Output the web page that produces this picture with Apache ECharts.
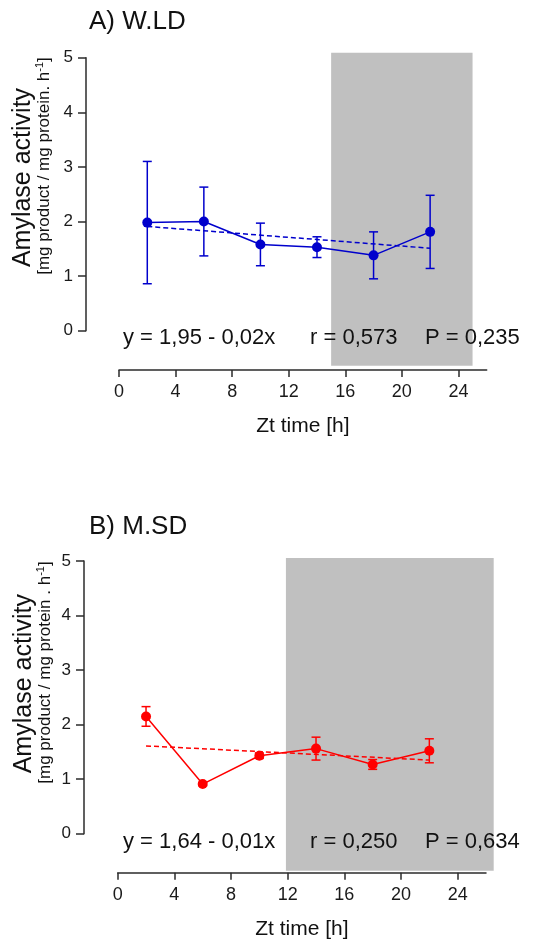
<!DOCTYPE html>
<html>
<head>
<meta charset="utf-8">
<script src="https://cdn.jsdelivr.net/npm/echarts@6/dist/echarts.min.js"></script>
<style>html,body{margin:0;padding:0;background:#fff;}#c{width:545px;height:941px;}</style>
</head>
<body>
<div id="c"></div>
<script>
// ---- data ----
const zt = [2, 6, 10, 14, 18, 22];
const wldMean = [1.98, 2.00, 1.58, 1.53, 1.38, 1.81];
const wldErr = [1.12, 0.63, 0.39, 0.19, 0.43, 0.67];
const msdMean = [2.15, 0.91, 1.43, 1.56, 1.27, 1.52];
const msdErr = [0.18, 0.03, 0.05, 0.21, 0.09, 0.22];
const fitX = [2, 22];
const wldFitY = [1.91, 1.51];
const msdFitY = [1.61, 1.35];
const wldDark = [15, 25];
const msdDark = [11.9, 26.6];
const panelTitles = ['A) W.LD', 'B) M.SD'];
const statTexts = [
  ['y = 1,95 - 0,02x', 'r = 0,573', 'P = 0,235'],
  ['y = 1,64 - 0,01x', 'r = 0,250', 'P = 0,634']
];
const yLabelLine1 = 'Amylase activity';
const yLabelLine2 = ['[mg product / mg protein. h', '[mg product / mg protein . h'];
const xName = 'Zt time [h]';

const FONT = '"Liberation Sans", Arial, sans-serif';
const AX = '#2b2b2b';

function pts(xs, ys) { return xs.map((x, i) => [x, ys[i]]); }
function errData(xs, m, e) { return xs.map((x, i) => [x, m[i] - e[i], m[i] + e[i]]); }

function errRender(color) {
  return function (params, api) {
    const x = api.value(0), lo = api.value(1), hi = api.value(2);
    const a = api.coord([x, hi]), b = api.coord([x, lo]);
    const w = 4.5;
    const st = { stroke: color, lineWidth: 1.5 };
    return { type: 'group', children: [
      { type: 'line', shape: { x1: a[0], y1: a[1], x2: b[0], y2: b[1] }, style: st },
      { type: 'line', shape: { x1: a[0] - w, y1: a[1], x2: a[0] + w, y2: a[1] }, style: st },
      { type: 'line', shape: { x1: b[0] - w, y1: b[1], x2: b[0] + w, y2: b[1] }, style: st }
    ]};
  };
}

// panel geometry
const P = [
  { left: 119, right: 486.7, top: 57.7, bottom: 330.7, xOff: 39.3, yOff: 33, bgTop: 52.7, bgBottom: 365.7, bgRight: 486.7, bgMax: 26,
    titleY: 22, statY: 338.3, yl1: [23, 177.5], yl2: [44.5, 166] },
  { left: 117.7, right: 486, top: 561, bottom: 833.7, xOff: 39, yOff: 33.7, bgTop: 558, bgBottom: 870.7, bgRight: 493.7, bgMax: 26.6,
    titleY: 526.7, statY: 841.7, yl1: [24, 683.7], yl2: [45, 672.5] }
];

const grid = [], xAxis = [], yAxis = [], series = [], graphic = [];
const colors = ['#0000CC', '#FF0000'];
const means = [wldMean, msdMean], errs = [wldErr, msdErr], fits = [wldFitY, msdFitY], darks = [wldDark, msdDark];

P.forEach((p, k) => {
  // background grid (dark phase)
  grid.push({ left: p.left, top: p.bgTop, width: p.bgRight - p.left, height: p.bgBottom - p.bgTop });
  xAxis.push({ gridIndex: 2 * k, type: 'value', min: 0, max: p.bgMax, show: false });
  yAxis.push({ gridIndex: 2 * k, type: 'value', min: 0, max: 1, show: false });
  series.push({ type: 'line', xAxisIndex: 2 * k, yAxisIndex: 2 * k, data: [], z: 0, silent: true,
    markArea: { silent: true, itemStyle: { color: '#C0C0C0', opacity: 1 },
      data: [[{ xAxis: darks[k][0] }, { xAxis: darks[k][1] }]] } });

  // main grid
  grid.push({ left: p.left, top: p.top, width: p.right - p.left, height: p.bottom - p.top });
  xAxis.push({ gridIndex: 2 * k + 1, type: 'value', min: 0, max: 26, interval: 4, offset: p.xOff,
    axisLine: { show: true, onZero: false, lineStyle: { color: AX, width: 1.5 } },
    axisTick: { show: true, length: 7, lineStyle: { color: AX, width: 1.5 } },
    splitLine: { show: false },
    axisLabel: { color: '#1a1a1a', fontSize: 18, fontFamily: FONT, margin: 13, showMaxLabel: false },
    name: xName, nameLocation: 'middle', nameGap: 46,
    nameTextStyle: { color: '#111', fontSize: 21, fontFamily: FONT } });
  yAxis.push({ gridIndex: 2 * k + 1, type: 'value', min: 0, max: 5, interval: 1, offset: p.yOff,
    axisLine: { show: true, onZero: false, lineStyle: { color: AX, width: 1.5 } },
    axisTick: { show: true, length: 8, lineStyle: { color: AX, width: 1.5 } },
    splitLine: { show: false },
    axisLabel: { color: '#1a1a1a', fontSize: 17, fontFamily: FONT, margin: 13 } });

  const c = colors[k];
  series.push({ type: 'line', xAxisIndex: 2 * k + 1, yAxisIndex: 2 * k + 1, data: pts(fitX, fits[k]),
    symbol: 'none', lineStyle: { color: c, width: 1.5, type: [5, 3] }, z: 3, silent: true });
  series.push({ type: 'custom', xAxisIndex: 2 * k + 1, yAxisIndex: 2 * k + 1, data: errData(zt, means[k], errs[k]),
    renderItem: errRender(c), z: 4, silent: true });
  series.push({ type: 'line', xAxisIndex: 2 * k + 1, yAxisIndex: 2 * k + 1, data: pts(zt, means[k]),
    symbol: 'circle', symbolSize: 10, itemStyle: { color: c }, lineStyle: { color: c, width: 1.5 }, z: 5, silent: true });

  // texts
  graphic.push({ type: 'text', x: 89, y: p.titleY, z: 100,
    style: { text: panelTitles[k], font: '26px ' + FONT, fill: '#111', verticalAlign: 'middle' } });
  const sx = [123, 310, 425];
  statTexts[k].forEach((t, i) => graphic.push({ type: 'text', x: sx[i], y: p.statY, z: 100,
    style: { text: t, font: '22px ' + FONT, fill: '#111', verticalAlign: 'middle' } }));
  graphic.push({ type: 'text', x: p.yl1[0], y: p.yl1[1], rotation: Math.PI / 2, z: 100,
    style: { text: yLabelLine1, font: '25px ' + FONT, fill: '#111', align: 'center', verticalAlign: 'middle' } });
  graphic.push({ type: 'text', x: p.yl2[0], y: p.yl2[1], rotation: Math.PI / 2, z: 100,
    style: { text: '{a|' + yLabelLine2[k] + '}{s|-1}{a|]}', align: 'center', verticalAlign: 'middle',
      rich: { a: { font: '17px ' + FONT, fill: '#111' , lineHeight: 20},
              s: { font: '11px ' + FONT, fill: '#111', verticalAlign: 'top', lineHeight: 20 } } } });
});

const chart = echarts.init(document.getElementById('c'), null, { renderer: 'canvas' });
chart.setOption({ animation: false, backgroundColor: '#fff', grid, xAxis, yAxis, series, graphic });
</script>
</body>
</html>
